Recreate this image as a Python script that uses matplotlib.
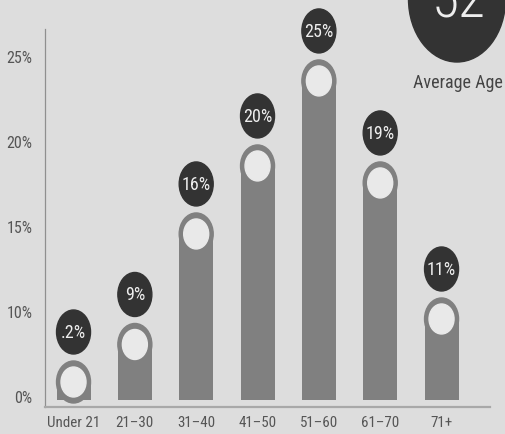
#  Distribuicao por faixa etaria - barras arredondadas com rotulos em circulos
import numpy as np
import matplotlib
matplotlib.use('Agg')
import matplotlib.pyplot as plt
from matplotlib.patches import Ellipse
from matplotlib.transforms import ScaledTranslation

groups = ['Under 21', '21–30', '31–40', '41–50', '51–60', '61–70', '71+']
shares = [0.2, 9, 16, 20, 25, 19, 11]          # % em cada faixa
ytick_vals = [0, 10, 15, 20, 25]                # eixo "quebrado" do original
avg_age = 52

BG, BAR, HOLE, DARK, TXT = '#dddddd', '#808080', '#e9e9e9', '#333333', '#555555'
plt.rcParams['font.family'] = ['Roboto Condensed', 'DejaVu Sans']

# escala por partes: 0-10 ocupa um passo, depois cada 5% um passo
def fwd(v):
    v = np.asarray(v, float)
    return np.where(v <= 10, v/10, 1 + (v-10)/5)
def inv(u):
    u = np.asarray(u, float)
    return np.where(u <= 1, u*10, 10 + (u-1)*5)

W, H = 505, 435
fig = plt.figure(figsize=(W/100, H/100), dpi=100, facecolor=BG)
ax = fig.add_axes([45/W, (H-408)/H, 445/W, 378/H], facecolor=BG)
ax.set_yscale('function', functions=(fwd, inv))
ax.set_ylim(-0.824, 26.82)
ax.set_xlim(-0.465, 6.79)

ax.set_yticks(ytick_vals, [f'{t}%' for t in ytick_vals])
ax.set_xticks(range(len(groups)), groups)
ax.tick_params(length=0, colors=TXT)
ax.tick_params(axis='y', pad=9, labelsize=11.5)
ax.tick_params(axis='x', pad=6, labelsize=10.8)
for lab in ax.get_yticklabels():            # rotulos um pouco acima da marca
    lab.set_transform(lab.get_transform() + ScaledTranslation(0, 0.04, fig.dpi_scale_trans))
ax.spines[['top', 'right']].set_visible(False)
ax.spines['left'].set_color('#8f8f8f'); ax.spines['left'].set_linewidth(0.9)
ax.spines['bottom'].set_color('#a8a8a8'); ax.spines['bottom'].set_linewidth(1.6)

# tamanhos em pixels
p = 1/100
bar_w, cap_h, hole_w, hole_h = 34, 21, 25, 30
lab_w, lab_h, lab_gap, min_h = 34, 44, 29, 39
x0 = ax.transData.transform((0, 0))
x1 = ax.transData.transform((1, 0))
wdata = bar_w / (x1[0] - x0[0])
base_px = x0[1]
invT = ax.transData.inverted()

for i, v in enumerate(shares):
    cx, top_px = ax.transData.transform((i, v))
    top_px = max(top_px, base_px + min_h)   # barra minima para .2%
    top_v = invT.transform((cx, top_px))[1]
    ctr_v = invT.transform((cx, top_px - cap_h))[1]
    ax.bar(i, ctr_v, width=wdata, color=BAR, zorder=3)
    off = fig.dpi_scale_trans + ScaledTranslation(i, top_v, ax.transData)
    ax.add_patch(Ellipse((0, -cap_h*p), bar_w*p, 2*cap_h*p, transform=off,
                         color=BAR, clip_on=False, zorder=3))
    ax.add_patch(Ellipse((0, -cap_h*p), hole_w*p, hole_h*p, transform=off,
                         color=HOLE, clip_on=False, zorder=4))
    ax.add_patch(Ellipse((0, lab_gap*p), lab_w*p, lab_h*p, transform=off,
                         color=DARK, clip_on=False, zorder=4))
    ax.text(0, lab_gap*p, f'{v:g}'.lstrip('0') + '%', transform=off, ha='center',
            va='center', color='#eeeeee', fontsize=13, zorder=5)

# idade media no canto superior direito
fig.add_artist(Ellipse((457/W, 1.0), 97/W, 126/H, transform=fig.transFigure, color=DARK))
fig.text(459/W, 1 - 18/H, str(avg_age), ha='center', va='baseline', color='#eeeeee',
         fontsize=40, fontweight='light')
fig.text(458/W, 1 - 83/H, 'Average Age', ha='center', va='center', color='#444444',
         fontsize=13)

plt.savefig('out.png', dpi=100, facecolor=BG)
